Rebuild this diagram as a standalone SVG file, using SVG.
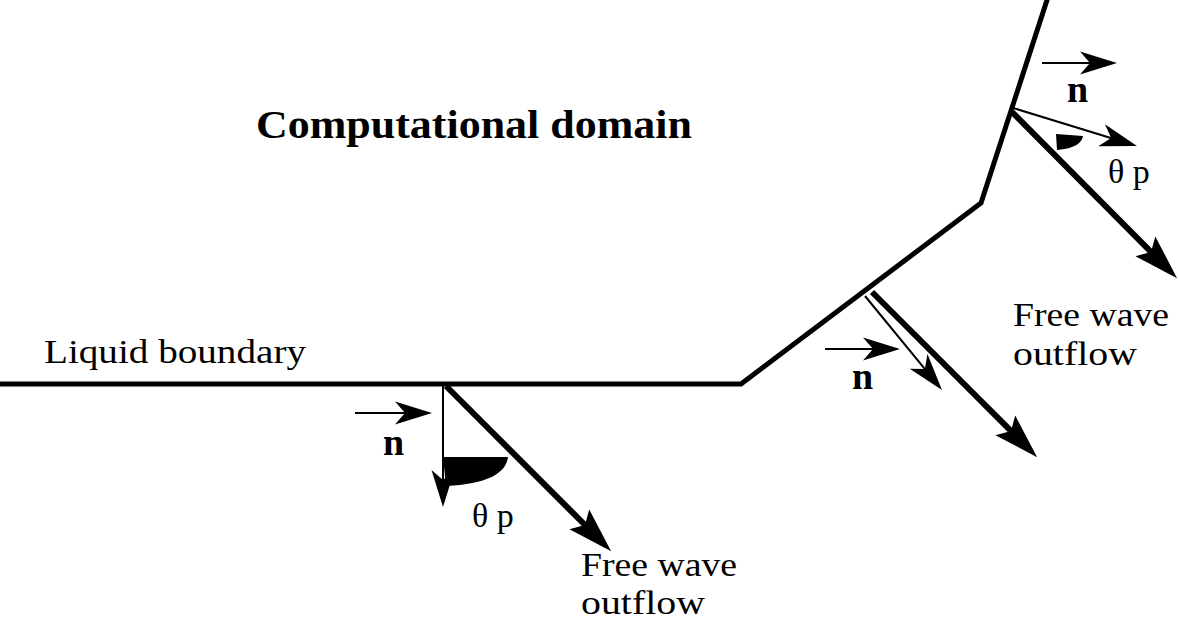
<svg xmlns="http://www.w3.org/2000/svg" width="1178" height="621" viewBox="0 0 1178 621">
  <style>
    .bnd { fill: none; stroke: #000; stroke-width: 5; stroke-linejoin: miter; }
    .thin { fill: none; stroke: #000; stroke-width: 2; marker-end: url(#thinHead); }
    .bold { fill: none; stroke: #000; stroke-width: 6; marker-end: url(#boldHead); }
    .sector { fill: #000; stroke: none; }
    .lbl { font-family: "Liberation Serif", "Times New Roman", serif; font-size: 34px; fill: #000; }
    .title { font-family: "Liberation Serif", "Times New Roman", serif; font-size: 41px; font-weight: bold; fill: #000; }
    .nvec { font-family: "Liberation Serif", "Times New Roman", serif; font-size: 38px; font-weight: bold; fill: #000; }
  </style>
  <defs>
    <marker id="thinHead" markerUnits="userSpaceOnUse" viewBox="-40 -15 42 30" markerWidth="42" markerHeight="30" refX="-12" refY="0" orient="auto">
      <path d="M0,0 L-37,-11.5 L-27,0 L-37,11.5 Z" fill="#000"/>
    </marker>
    <marker id="boldHead" markerUnits="userSpaceOnUse" viewBox="-48 -16 50 32" markerWidth="50" markerHeight="32" refX="-20" refY="0" orient="auto">
      <path d="M0,0 L-45,-14 L-37,0 L-45,14 Z" fill="#000"/>
    </marker>
  </defs>

  <g id="boundary">
    <path class="bnd" d="M-5,384 L741,384 L981,203 L1048,-3"/>
  </g>

  <g id="connectors">
    <!-- bottom-left -->
    <line class="thin" x1="355" y1="413" x2="420" y2="413"/>
    <line class="thin" x1="443" y1="386" x2="443" y2="495"/>
    <line class="bold" x1="446" y1="386" x2="597" y2="537"/>
    <!-- middle -->
    <line class="thin" x1="825" y1="349" x2="888" y2="349"/>
    <line class="thin" x1="865" y1="296" x2="934.4" y2="380.7"/>
    <line class="bold" x1="872" y1="292" x2="1023" y2="443"/>
    <!-- top-right -->
    <line class="thin" x1="1042" y1="63" x2="1105" y2="63"/>
    <line class="thin" x1="1013" y1="108" x2="1125.5" y2="142.5"/>
    <line class="bold" x1="1012" y1="112" x2="1163" y2="264"/>
  </g>

  <g id="angle-bottom">
    <path class="sector" d="M443,457 L508,457 C506,474 486,484 446,486 Z"/>
  </g>
  <g id="angle-top">
    <path class="sector" d="M1056,134 L1083,136 Q1081,148 1057,150 Z"/>
  </g>

  <g id="title">
    <text class="title" x="256" y="138" textLength="436" lengthAdjust="spacingAndGlyphs">Computational domain</text>
  </g>
  <g id="liquid-boundary">
    <text class="lbl" x="44" y="363" textLength="262" lengthAdjust="spacingAndGlyphs">Liquid boundary</text>
  </g>

  <g id="n-bottom"><text class="nvec" x="383" y="455">n</text></g>
  <g id="n-middle"><text class="nvec" x="852" y="389">n</text></g>
  <g id="n-top"><text class="nvec" x="1067" y="102">n</text></g>

  <g id="theta-bottom"><text class="lbl" x="472" y="527">θ p</text></g>
  <g id="theta-top"><text class="lbl" x="1108" y="183">θ p</text></g>

  <g id="outflow-bottom">
    <text class="lbl" x="581" y="576" textLength="156" lengthAdjust="spacingAndGlyphs">Free wave</text>
    <text class="lbl" x="581" y="614" textLength="124" lengthAdjust="spacingAndGlyphs">outflow</text>
  </g>
  <g id="outflow-top">
    <text class="lbl" x="1013" y="326" textLength="156" lengthAdjust="spacingAndGlyphs">Free wave</text>
    <text class="lbl" x="1013" y="365" textLength="124" lengthAdjust="spacingAndGlyphs">outflow</text>
  </g>
</svg>
